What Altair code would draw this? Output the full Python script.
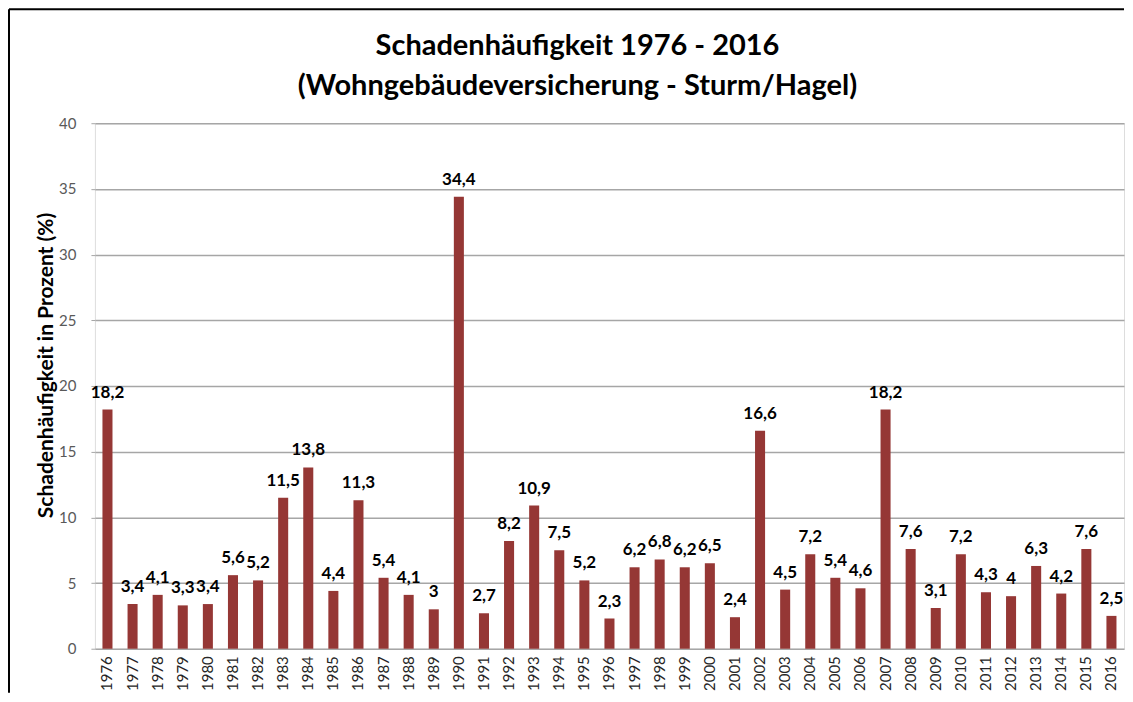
import altair as alt
import pandas as pd

years = [str(y) for y in range(1976, 2017)]
values = [18.2, 3.4, 4.1, 3.3, 3.4, 5.6, 5.2, 11.5, 13.8, 4.4, 11.3, 5.4, 4.1, 3.0,
          34.4, 2.7, 8.2, 10.9, 7.5, 5.2, 2.3, 6.2, 6.8, 6.2, 6.5, 2.4, 16.6, 4.5,
          7.2, 5.4, 4.6, 18.2, 7.6, 3.1, 7.2, 4.3, 4.0, 6.3, 4.2, 7.6, 2.5]


def de_label(v):
    s = ("%g" % v)
    return s.replace(".", ",")


df = pd.DataFrame({"Jahr": years, "Wert": values, "Label": [de_label(v) for v in values]})

FONT = "Lato"
W, H = 1030, 526

x = alt.X("Jahr:N", sort=years, title=None,
          scale=alt.Scale(paddingInner=0.6, paddingOuter=0.3),
          axis=alt.Axis(labelAngle=-90, labelFontSize=15, labelColor="#262626",
                        labelFont=FONT, ticks=False, domain=False, labelPadding=7,
                        labelBaseline="middle", labelAlign="right"))
y = alt.Y("Wert:Q", title="Schadenhäufigkeit  in Prozent (%)",
          scale=alt.Scale(domain=[0, 40], nice=False),
          axis=alt.Axis(values=[0, 5, 10, 15, 20, 25, 30, 35, 40], grid=True,
                        gridColor="#a6a6a6", gridWidth=1.5, domain=False,
                        ticks=True, tickSize=4, tickColor="#a6a6a6",
                        labelFontSize=15, labelColor="#595959", labelFont=FONT,
                        labelPadding=15, titleFont=FONT, titleFontSize=21,
                        titleFontWeight="bold", titleColor="#000000",
                        titleX=-48, titleY=242, titleAngle=-90,
                        titleAlign="center", titleBaseline="middle"))

base = alt.Chart(df)
bars = base.mark_bar(color="#953735").encode(x=x, y=y)
labels = base.mark_text(font=FONT, fontSize=17, fontWeight="bold", color="#000000",
                        baseline="bottom", dy=-8).encode(x=x, y=y, text="Label:N")

frame_df = pd.DataFrame({"k": [0]})
left_line = alt.Chart(frame_df).mark_rule(color="#000000", strokeWidth=2).encode(
    x=alt.value(-86), y=alt.value(-114), y2=alt.value(H + 44))
top_line = alt.Chart(frame_df).mark_rule(color="#000000", strokeWidth=2).encode(
    x=alt.value(-86), x2=alt.value(W), y=alt.value(-114))

chart = alt.layer(bars, labels, left_line, top_line).properties(
    width=W, height=H,
    title=alt.TitleParams(
        text=["Schadenhäufigkeit 1976 - 2016", "(Wohngebäudeversicherung - Sturm/Hagel)"],
        font=FONT, fontSize=29, fontWeight="bold", color="#000000",
        anchor="middle", frame="group", offset=-93, lineHeight=40, dx=-32),
    autosize=alt.AutoSizeParams(type="pad"),
    padding={"left": 0, "top": 0, "right": 0, "bottom": 0},
).configure_view(fill="#d9d9d9", stroke="#bfbfbf", strokeWidth=1.5
).configure(background="#ffffff")

chart.save("out.html", embed_options={"renderer": "svg", "actions": False})
